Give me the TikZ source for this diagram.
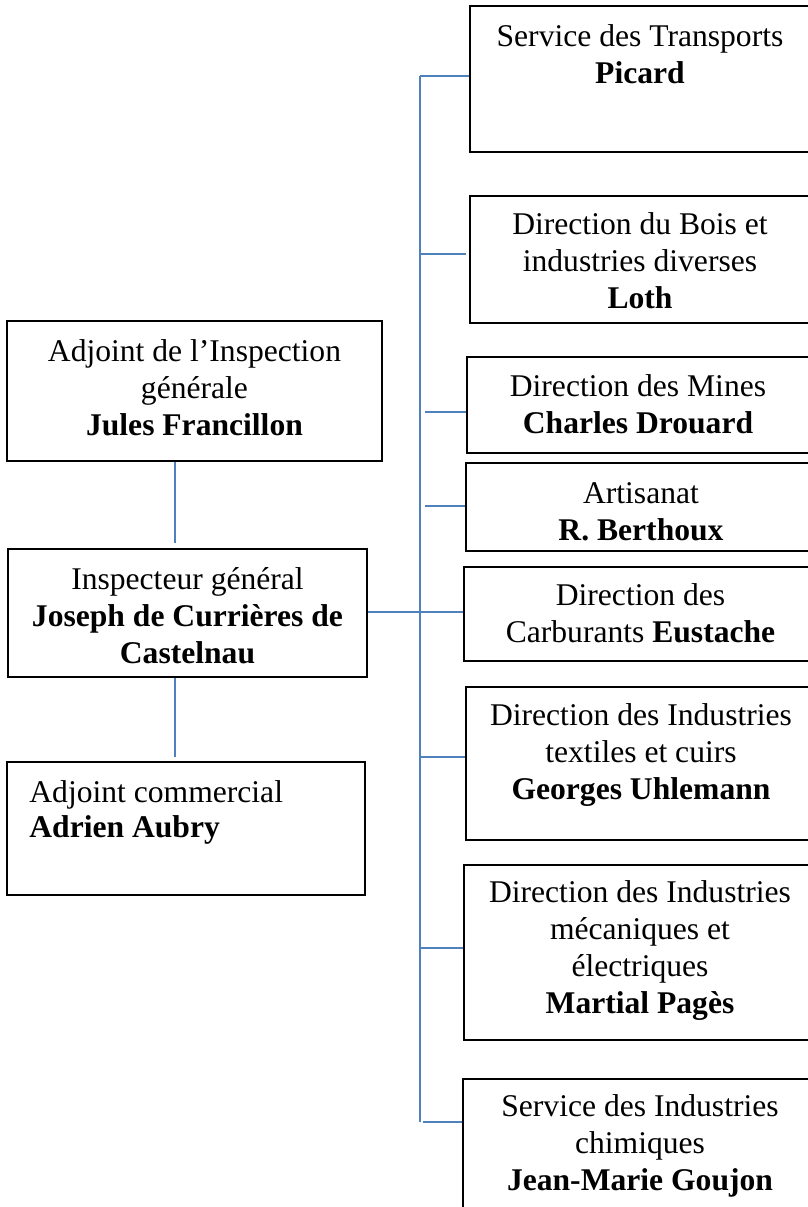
\documentclass[tikz,border=0pt]{standalone}
\usepackage{fontspec}
\setmainfont{Liberation Serif}
\usetikzlibrary{fit}
\definecolor{connblue}{RGB}{79,129,189}
\begin{document}
\begin{tikzpicture}[x=0.5pt,y=-0.5pt,
  box/.style={draw=black,line width=1pt,inner sep=0pt,rectangle},
  conn/.style={draw=connblue,line width=0.8pt},
  txt/.style={inner sep=0pt,align=center,anchor=base,font=\fontsize{15.8pt}{18.35pt}\selectfont},
  txtl/.style={inner sep=0pt,align=left,anchor=base west,font=\fontsize{15.8pt}{17.5pt}\selectfont}]
\useasboundingbox (0,0) rectangle (808,1207);
\clip (0,0) rectangle (808,1207);
% left column boxes
\node[box,fit={(7,321) (382,461)}] (franc) {};
\node[box,fit={(8,549) (367,677)}] (insp) {};
\node[box,fit={(7,762) (365,895)}] (aubry) {};
% right column boxes
\node[box,fit={(470,6) (815,152)}] (picard) {};
\node[box,fit={(470,196) (815,323)}] (loth) {};
\node[box,fit={(467,357) (815,453)}] (mines) {};
\node[box,fit={(466,463) (815,551)}] (artis) {};
\node[box,fit={(464,567) (815,661)}] (carbu) {};
\node[box,fit={(466,687) (815,840)}] (textil) {};
\node[box,fit={(464,865) (815,1040)}] (meca) {};
\node[box,fit={(463,1079) (815,1215)}] (chim) {};
% texts (anchor = baseline of last line)
\node[txt] (tfranc) at (194.5,435) {Adjoint de l’Inspection\\générale\\\textbf{Jules Francillon}};
\node[txt] (tinsp) at (187.5,663) {Inspecteur général\\\textbf{Joseph de Currières de}\\\textbf{Castelnau}};
\node[txtl] (taubry) at (29,837) {Adjoint commercial\\\textbf{Adrien Aubry}};
\node[txt] (tpicard) at (640,83) {Service des Transports\\\textbf{Picard}};
\node[txt] (tloth) at (640,308) {Direction du Bois et\\industries diverses\\\textbf{Loth}};
\node[txt] (tmines) at (638,433) {Direction des Mines\\\textbf{Charles Drouard}};
\node[txt] (tartis) at (641,540) {Artisanat\\\textbf{R. Berthoux}};
\node[txt] (tcarbu) at (640.5,642) {Direction des\\Carburants \textbf{Eustache}};
\node[txt] (ttextil) at (641,799) {Direction des Industries\\textiles et cuirs\\\textbf{Georges Uhlemann}};
\node[txt] (tmeca) at (640,1013) {Direction des Industries\\mécaniques et\\électriques\\\textbf{Martial Pagès}};
\node[txt] (tchim) at (640,1190) {Service des Industries\\chimiques\\\textbf{Jean-Marie Goujon}};
% connector coordinates
\coordinate (ctop) at (420,76);
\coordinate (cbot) at (420,1122);
\coordinate (s1) at (420,76);
\coordinate (s2) at (420,254);
\coordinate (s3) at (425,412);
\coordinate (s4) at (425,506);
\coordinate (s5) at (420,612);
\coordinate (s6) at (420,757);
\coordinate (s7) at (420,948);
\coordinate (s8) at (423,1122);
\coordinate (sh) at (420,612);
\coordinate (c1) at (175,543);
\coordinate (c2) at (175,757);
% connectors
\draw[conn] (ctop) -- (cbot);
\draw[conn] (s1) -- (s1 -| picard.west);
\draw[conn] (s2) -- ([xshift=-1.5pt]s2 -| loth.west);
\draw[conn] (s3) -- (s3 -| mines.west);
\draw[conn] (s4) -- (s4 -| artis.west);
\draw[conn] (s5) -- (s5 -| carbu.west);
\draw[conn] (s6) -- (s6 -| textil.west);
\draw[conn] (s7) -- (s7 -| meca.west);
\draw[conn] (s8) -- (s8 -| chim.west);
\draw[conn] (sh -| insp.east) -- (sh);
\draw[conn] (c1 |- franc.south) -- (c1);
\draw[conn] (c2 |- insp.south) -- (c2);
\end{tikzpicture}
\end{document}
